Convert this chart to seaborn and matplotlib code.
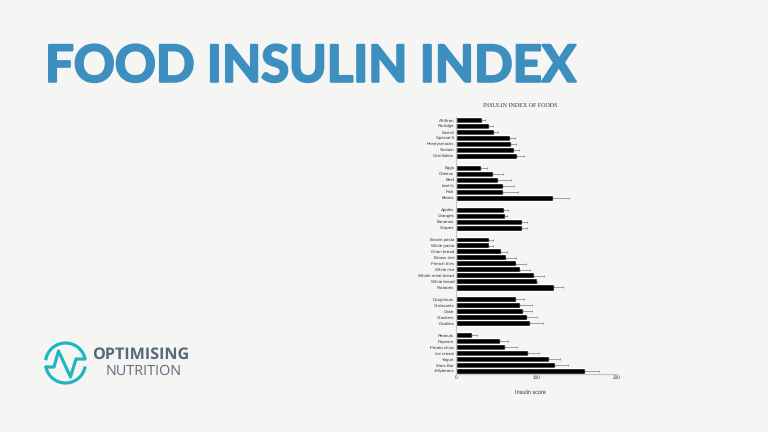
import numpy as np
import matplotlib
matplotlib.use("Agg")
import matplotlib.pyplot as plt
import matplotlib.patheffects as pe
from matplotlib.patches import Arc
import seaborn as sns

# Foods by group, top to bottom, with mean insulin score and upper error
cereals = ["All-Bran", "Porridge", "Muesli", "Special K", "Honeysmacks", "Sustain", "Cornflakes"]
cereals_val = [32, 41, 47, 67, 68, 72, 76]
cereals_err = [4, 4.5, 5, 6, 7, 6, 8]

proteins = ["Eggs", "Cheese", "Beef", "Lentils", "Fish", "Beans"]
proteins_val = [31, 45.5, 52, 58, 59, 120]
proteins_err = [7, 13.5, 16, 14, 18, 20]

fruits = ["Apples", "Oranges", "Bananas", "Grapes"]
fruits_val = [60, 61, 81.5, 82]
fruits_err = [5, 2, 6.5, 6.5]

starches = ["Brown pasta", "White pasta", "Grain bread", "Brown rice", "French fries",
            "White rice", "Whole-meal bread", "White bread", "Potatoes"]
starches_val = [40.5, 40.5, 56, 62, 74, 79, 96.5, 101, 122]
starches_err = [5.5, 5, 7, 12, 12.5, 13, 12.5, 0, 11]

baked = ["Doughnuts", "Croissants", "Cake", "Crackers", "Cookies"]
baked_val = [74, 79.5, 83, 88, 92]
baked_err = [10.5, 14.5, 12, 12, 16.5]

snacks = ["Peanuts", "Popcorn", "Potato chips", "Ice cream", "Yogurt", "Mars Bar", "Jellybeans"]
snacks_val = [20, 55, 61, 90, 115.5, 123, 160.7]
snacks_err = [6, 9, 15, 13.5, 13.5, 16, 17.3]

groups = [(cereals, cereals_val, cereals_err), (proteins, proteins_val, proteins_err),
          (fruits, fruits_val, fruits_err), (starches, starches_val, starches_err),
          (baked, baked_val, baked_err), (snacks, snacks_val, snacks_err)]

PAGE = "#f5f5f3"
W, H = 768, 432

sns.set_theme(style="white", rc={"figure.facecolor": PAGE, "axes.facecolor": PAGE})
plt.rcParams["font.family"] = ["Liberation Sans", "DejaVu Sans"]
plt.rcParams["text.hinting"] = "no_hinting"

fig = plt.figure(figsize=(W / 100, H / 100), dpi=100)

# Bars occupy rows of a numeric axis, leaving one empty row between groups
names, values, errors, rows = [], [], [], []
row = 0
for g_names, g_vals, g_errs in groups:
    for n, v, e in zip(g_names, g_vals, g_errs):
        names.append(n)
        values.append(v)
        errors.append(e)
        rows.append(row)
        row += 1
    row += 1

ax = fig.add_axes([456 / W, 1 - 374 / H, 161 / W, 257.5 / H])
sns.barplot(x=values, y=rows, orient="h", native_scale=True, color="black",
            saturation=1, width=1.05, ax=ax, errorbar=None)
ax.errorbar(values, rows, xerr=[np.zeros(len(errors)), errors], fmt="none",
            ecolor="#707070", elinewidth=0.45, capsize=0.9, capthick=0.45)
ax.set_xlim(0, 200)
ax.set_ylim(42.47, -0.6)
ax.set_yticks(rows)
ax.set_yticklabels(names, fontsize=3.2, color="#333333")
ax.set_xticks([0, 100, 200])
ax.set_xticklabels(["0", "100", "200"], fontsize=3.4, color="#333333")
ax.tick_params(axis="both", length=0, pad=1.3)
ax.set_xlabel("Insulin score", fontsize=4.0, color="#333333", x=0.46, labelpad=6.5)
for side in ("top", "right"):
    ax.spines[side].set_visible(False)
for side in ("left", "bottom"):
    ax.spines[side].set_color("#c4c4c4")
    ax.spines[side].set_linewidth(0.8)

# Full-figure layer in pixel units for the heading and logo
page = fig.add_axes([0, 0, 1, 1], zorder=3)
page.set_xlim(0, W)
page.set_ylim(H, 0)
page.axis("off")
page.patch.set_alpha(0)

page.text(520.5, 106.7, "INSULIN INDEX OF FOODS", family="Liberation Serif", fontsize=4.3,
          color="#333333", ha="center", va="center")
BLUE = "#3d8fc0"
page.text(45, 67, "FOOD INSULIN INDEX", family="Lato", weight="bold", fontsize=36.6,
          color=BLUE, ha="left", va="center",
          path_effects=[pe.withStroke(linewidth=1.6, foreground=BLUE)])

TEAL = "#1fb6bd"
LW = 2.3
cx, cy, r = 65.5, 363, 20
page.add_patch(Arc((cx, cy), 2 * r, 2 * r, theta1=10, theta2=172, color=TEAL, lw=LW))
page.add_patch(Arc((cx, cy), 2 * r, 2 * r, theta1=188, theta2=350, color=TEAL, lw=LW))
pulse_x = [46, 54, 58.5, 70.5, 76, 85]
pulse_y = [367, 367, 351, 377, 359, 359]
page.plot(pulse_x, pulse_y, color=TEAL, lw=LW, solid_joinstyle="round")

page.text(92.5, 355, "OPTIMISING", weight="bold", family="Open Sans", fontsize=11.6,
          color="#55697a", ha="left", va="center")
page.text(105.5, 371.7, "NUTRITION", family="Open Sans", fontsize=10.4,
          color="#5d6f7e", ha="left", va="center")

fig.savefig("out.png", dpi=100, facecolor=PAGE)
